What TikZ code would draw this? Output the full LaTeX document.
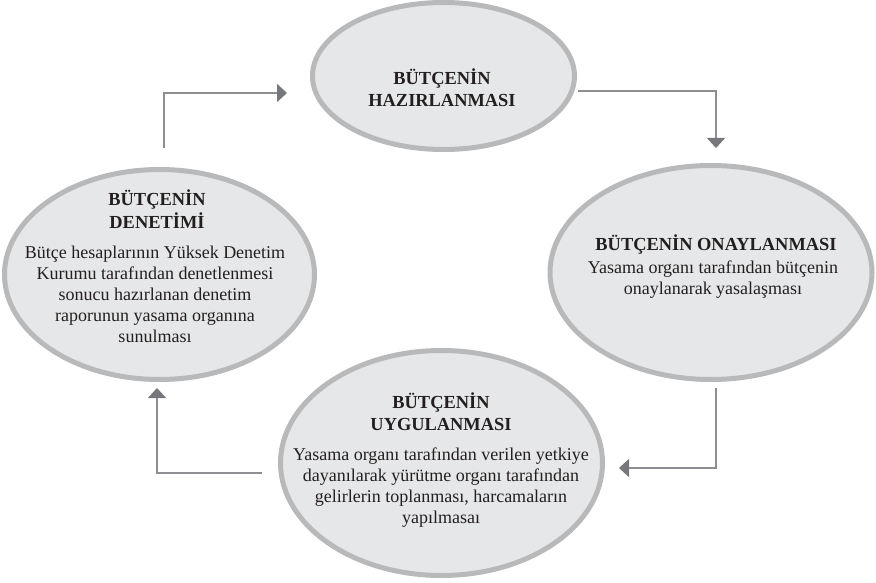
\documentclass[tikz,border=0pt]{standalone}
\usepackage{fontspec}
\setmainfont{Liberation Serif}
\usetikzlibrary{shapes.geometric,arrows.meta}
\definecolor{blobfill}{HTML}{E6E7E8}
\definecolor{blobline}{HTML}{B8B9BB}
\definecolor{connline}{HTML}{8E8F92}
\definecolor{tipcol}{HTML}{77787B}
\definecolor{ink}{HTML}{231F20}
\begin{document}
\begin{tikzpicture}[x=1pt,y=-1pt,
 blob/.style={ellipse, draw=blobline, fill=blobfill, line width=5pt, inner sep=0pt},
 ttl/.style={font=\fontsize{18.4}{22}\selectfont\bfseries, align=center, anchor=base, inner sep=0pt, text=ink},
 body/.style={font=\fontsize{18}{21}\selectfont, align=center, anchor=base, inner sep=0pt, text=ink},
 conn/.style={draw=connline, line width=1.6pt, -{Triangle[length=10pt,width=18pt,color=tipcol]}}]
\useasboundingbox (0,0) rectangle (876,583);
\fill[white] (0,0) rectangle (876,583);

\node[blob, minimum width=262pt, minimum height=147pt] (hz) at (443.5,76) {};
\node[blob, minimum width=310pt, minimum height=210pt] (dn) at (159.5,274.5) {};
\node[blob, minimum width=322pt, minimum height=214pt] (on) at (711,272.5) {};
\node[blob, minimum width=322pt, minimum height=225pt] (uy) at (441.5,463) {};

% base anchor of a multi-line node = baseline of its last line
\node[ttl] (hzt) at (442,107) {BÜTÇENİN\\HAZIRLANMASI};
\node[ttl] (dnt) at (157,228) {BÜTÇENİN\\DENETİMİ};
\node[body] (dnb) at (155,342) {Bütçe hesaplarının Yüksek Denetim\\Kurumu tarafından denetlenmesi\\sonucu hazırlanan denetim\\raporunun yasama organına\\sunulması};
\node[ttl] (ont) at (716,251) {BÜTÇENİN ONAYLANMASI};
\node[body] (onb) at (713,294) {Yasama organı tarafından bütçenin\\onaylanarak yasalaşması};
\node[ttl] (uyt) at (441,430) {BÜTÇENİN\\UYGULANMASI};
\node[body] (uyb) at (441,523) {Yasama organı tarafından verilen yetkiye\\dayanılarak yürütme organı tarafından\\gelirlerin toplanması, harcamaların\\yapılmasaı};

\coordinate (c1s) at (164,148); \coordinate (c1e) at (287,93);
\coordinate (c2s) at (578,91);  \coordinate (c2e) at (716,148);
\coordinate (c3s) at (716,388); \coordinate (c3e) at (619,468);
\coordinate (c4s) at (262,473); \coordinate (c4e) at (157,388);
\draw[conn] (c1s) |- (c1e);
\draw[conn] (c2s) -| (c2e);
\draw[conn] (c3s) |- (c3e);
\draw[conn] (c4s) -| (c4e);
\end{tikzpicture}
\end{document}
